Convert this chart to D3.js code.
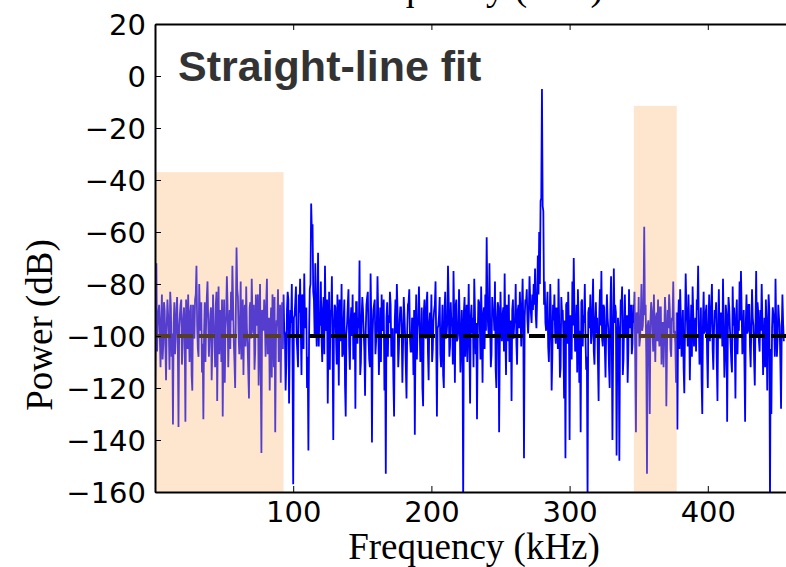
<!DOCTYPE html>
<html>
<head>
<meta charset="utf-8">
<script src="https://cdn.jsdelivr.net/npm/d3@7"></script>
<style>
  html, body { margin: 0; padding: 0; background: #fff; }
  svg { display: block; }
</style>
</head>
<body>
<svg class="svg" width="786" height="567"></svg>
<script>
// spectrum, in dB: one value at each whole kHz...
const powerDb = [
  -127, -72, -95, -88, -112, -84, -103, -90, -117, -86, -98, -83, -108, -134, -87, -101, -85, -135, -92, -86,
  -104, -89, -133, -96, -84, -110, -88, -121, -93, -86, -73, -105, -80, -98, -114, -132, -87, -95, -79, -108,
  -92, -117, -84, -99, -88, -125, -81, -94, -110, -131, -86, -97, -77, -112, -90, -83, -73, -102, -120, -66,
  -85, -107, -79, -96, -115, -88, -81, -103, -124, -87, -78, -99, -113, -84, -92, -119, -80, -145, -91, -86,
  -108, -78, -97, -121, -89, -84, -112, -137, -94, -82, -105, -118, -87, -84, -99, -111, -83, -126, -90, -80,
  -157, -92, -81, -106, -84, -78, -115, -88, -76, -97, -120, -144, -82, -49, -57, -86, -72, -104, -68, -91,
  -79, -110, -85, -73, -98, -126, -83, -90, -77, -140, -88, -101, -84, -119, -92, -80, -107, -86, -131, -95,
  -82, -113, -89, -84, -104, -128, -87, -93, -71, -110, -85, -98, -123, -88, -83, -109, -76, -141, -90, -86,
  -102, -77, -115, -89, -84, -96, -121, -153, -87, -92, -83, -108, -97, -131, -86, -80, -112, -94, -89, -118,
  -85, -100, -124, -88, -82, -106, -93, -115, -138, -84, -97, -81, -110, -89, -127, -86, -101, -83, -117, -91,
  -84, -105, -90, -79, -131, -96, -85, -112, -88, -120, -83, -99, -73, -108, -87, -93, -75, -118, -86, -101,
  -82, -114, -90, -164, -85, -97, -110, -80, -126, -88, -93, -78, -107, -132, -86, -95, -81, -118, -89, -84,
  -62, -96, -72, -112, -85, -90, -79, -120, -87, -137, -83, -102, -89, -76, -115, -92, -84, -108, -125, -86,
  -94, -80, -111, -88, -83, -104, -78, -147, -86, -82, -99, -77, -91, -84, -80, -74, -97, -69, -60, -48,
  -5, -52, -79, -98, -83, -110, -80, -121, -88, -84, -103, -92, -78, -116, -85, -90, -124, -147, -87, -83,
  -140, -95, -79, -70, -106, -88, -82, -118, -137, -86, -92, -80, -113, -162, -89, -84, -100, -78, -111, -87,
  -93, -125, -82, -75, -104, -89, -116, -84, -97, -120, -77, -140, -74, -88, -146, -93, -148, -86, -81, -109,
  -84, -97, -118, -82, -90, -107, -88, -83, -137, -92, -85, -101, -80, -96, -58, -88, -153, -94, -130, -87,
  -99, -84, -110, -91, -86, -104, -89, -95, -112, -85, -127, -90, -84, -105, -93, -79, -98, -118, -136, -86,
  -82, -108, -90, -122, -76, -95, -84, -117, -88, -81, -104, -93, -86, -73, -111, -89, -130, -83, -98, -88,
  -120, -84, -95, -80, -113, -90, -87, -125, -82, -101, -92, -78, -116, -88, -133, -85, -97, -110, -81, -89,
  -124, -86, -94, -79, -75, -107, -90, -133, -84, -98, -88, -112, -82, -96, -119, -75, -87, -102, -90, -80,
  -115, -93, -86, -121, -84, -165, -130, -89, -95, -78, -108, -88, -96, -128, -84, -102
];

// ...and one at each half kHz in between
const powerDbHalf = [
  -98, -106, -91, -100, -94, -109, -87, -104, -96, -92, -113, -89, -99, -95, -107, -90, -102, -97, -88, -111,
  -93, -100, -86, -105, -97, -91, -115, -88, -101, -84, -96, -108, -92, -87, -103, -99, -110, -85, -94, -100,
  -89, -104, -96, -112, -83, -98, -107, -90, -86, -101, -118, -92, -88, -99, -105, -94, -87, -110, -91, -82,
  -100, -95, -109, -86, -93, -104, -97, -114, -89, -101, -92, -88, -106, -96, -84, -103, -111, -90, -98, -94,
  -87, -107, -93, -99, -116, -91, -85, -102, -96, -110, -88, -94, -105, -98, -121, -90, -86, -103, -95, -108,
  -93, -87, -101, -112, -91, -97, -84, -105, -95, -89, -108, -99, -80, -60, -83, -100, -92, -88, -104, -96,
  -101, -90, -107, -95, -86, -99, -113, -92, -104, -96, -89, -111, -97, -86, -102, -108, -94, -119, -99, -88,
  -104, -95, -100, -109, -91, -87, -103, -97, -115, -93, -90, -106, -98, -85, -101, -112, -94, -99, -88, -107,
  -96, -91, -104, -110, -98, -86, -100, -93, -108, -95, -88, -102, -117, -94, -99, -90, -105, -89, -97, -103,
  -92, -112, -98, -87, -101, -106, -94, -90, -100, -109, -93, -96, -104, -120, -91, -98, -87, -106, -95, -100,
  -110, -94, -88, -103, -97, -92, -107, -99, -115, -90, -101, -95, -86, -104, -96, -111, -93, -89, -102, -98,
  -94, -106, -100, -91, -108, -88, -97, -103, -93, -99, -112, -90, -95, -101, -87, -109, -96, -92, -105, -98,
  -88, -100, -95, -107, -91, -98, -113, -93, -89, -104, -97, -92, -106, -99, -88, -102, -110, -94, -90, -101,
  -95, -103, -90, -97, -92, -89, -96, -93, -87, -94, -91, -86, -95, -90, -88, -92, -86, -84, -80, -47,
  -50, -88, -95, -90, -104, -97, -92, -108, -94, -99, -89, -105, -96, -112, -91, -100, -94, -88, -103, -97,
  -92, -109, -96, -90, -101, -114, -93, -98, -87, -104, -95, -100, -108, -91, -97, -103, -89, -106, -94, -99,
  -110, -92, -96, -101, -88, -105, -97, -93, -112, -90, -99, -104, -95, -91, -107, -98, -102, -89, -115, -94,
  -100, -92, -106, -97, -88, -103, -95, -110, -91, -99, -104, -93, -98, -88, -92, -108, -96, -101, -94, -90,
  -106, -97, -93, -102, -99, -89, -111, -95, -100, -92, -104, -97, -90, -108, -94, -99, -103, -91, -96, -105,
  -93, -100, -112, -97, -89, -104, -95, -101, -108, -92, -98, -106, -90, -96, -103, -117, -94, -99, -91, -107,
  -96, -102, -88, -105, -98, -93, -110, -95, -100, -91, -104, -97, -108, -92, -99, -89, -103, -114, -96, -101,
  -92, -107, -98, -94, -90, -102, -110, -95, -99, -88, -104, -97, -93, -109, -96, -100, -91, -106, -98, -94,
  -103, -112, -95, -99, -90, -105, -97, -92, -108, -96, -101, -93, -110, -98, -95
];

const fitLevel = -100;

// shaded bands [start kHz, end kHz, top dB]
const bands = [
  [0, 93, -37],
  [346.5, 377.5, -11.5]
];

const xTicks = [100, 200, 300, 400];
const yTicks = [20, 0, -20, -40, -60, -80, -100, -120, -140, -160];

const samples = powerDb.flatMap((v, i) =>
  i < powerDbHalf.length ? [[i, v], [i + 0.5, powerDbHalf[i]]] : [[i, v]]
);

const svg = d3.select('.svg');

const plotLeft = 155, plotTop = 24, plotBottom = 492;

const x = d3.scaleLinear().domain([0, 460]).range([plotLeft, plotLeft + 460 * 1.382]);
const y = d3.scaleLinear().domain([-160, 20]).range([plotBottom, plotTop]);

svg.append('defs')
  .append('clipPath')
  .attr('id', 'plot-clip')
  .append('rect')
  .attr('x', x(0))
  .attr('y', y(20))
  .attr('width', x(460) - x(0))
  .attr('height', y(-160) - y(20));

const plot = svg.append('g').attr('clip-path', 'url(#plot-clip)');

const line = d3.line()
  .x(d => x(d[0]))
  .y(d => y(d[1]));

plot.append('path')
  .datum(samples)
  .attr('d', line)
  .attr('fill', 'none')
  .attr('stroke', '#0000ff')
  .attr('stroke-width', 1.8)
  .attr('stroke-linejoin', 'miter');

plot.append('line')
  .attr('x1', x(0))
  .attr('x2', x(460))
  .attr('y1', y(fitLevel))
  .attr('y2', y(fitLevel))
  .attr('stroke', '#000')
  .attr('stroke-width', 4)
  .attr('stroke-dasharray', '16,6');

plot.selectAll('rect.band')
  .data(bands)
  .join('rect')
  .attr('class', 'band')
  .attr('x', d => x(d[0]))
  .attr('width', d => x(d[1]) - x(d[0]))
  .attr('y', d => y(d[2]))
  .attr('height', d => y(-160) - y(d[2]))
  .attr('fill', 'rgb(250,182,109)')
  .attr('fill-opacity', 0.34);

// axes, matplotlib classic look: inward ticks on all sides
const xAxisBottom = d3.axisBottom(x).tickValues(xTicks).tickSize(-6).tickPadding(9).tickSizeOuter(0);
const xAxisTop = d3.axisTop(x).tickValues(xTicks).tickSize(-6).tickFormat('').tickSizeOuter(0);
const yAxis = d3.axisLeft(y).tickValues(yTicks).tickSize(-6).tickPadding(9)
  .tickFormat(d => d < 0 ? '\u2212' + Math.abs(d) : d).tickSizeOuter(0);

const gx = svg.append('g').attr('transform', `translate(0,${plotBottom})`).call(xAxisBottom);
const gt = svg.append('g').attr('transform', `translate(0,${plotTop})`).call(xAxisTop);
const gy = svg.append('g').attr('transform', `translate(${plotLeft},0)`).call(yAxis);

[gx, gt, gy].forEach(g => {
  g.select('.domain').attr('stroke', '#000').attr('stroke-width', 2);
  g.selectAll('.tick line').attr('stroke', '#000').attr('stroke-width', 1);
  g.selectAll('.tick text')
    .attr('fill', '#000')
    .style('font-family', '"DejaVu Sans", sans-serif')
    .style('font-size', '29px');
});
gx.selectAll('.tick text').attr('dy', '0.71em');
gy.selectAll('.tick text').attr('dy', '0.36em');

// x label of the panel above, cut off at the top edge as in the original
svg.append('text')
  .attr('x', 474)
  .attr('y', 0)
  .attr('text-anchor', 'middle')
  .style('font-family', '"Liberation Serif", "Times New Roman", serif')
  .style('font-size', '38px')
  .text('Frequency (kHz)');

svg.append('text')
  .attr('x', 474)
  .attr('y', 559)
  .attr('text-anchor', 'middle')
  .style('font-family', '"Liberation Serif", "Times New Roman", serif')
  .style('font-size', '37px')
  .text('Frequency (kHz)');

svg.append('text')
  .attr('transform', 'translate(52,325) rotate(-90)')
  .attr('text-anchor', 'middle')
  .style('font-family', '"Liberation Serif", "Times New Roman", serif')
  .style('font-size', '37px')
  .text('Power (dB)');

svg.append('text')
  .attr('x', 178)
  .attr('y', 81)
  .attr('fill', '#333')
  .style('font-family', '"Liberation Sans", Arial, sans-serif')
  .style('font-weight', 'bold')
  .style('font-size', '43px')
  .text('Straight-line fit');
</script>
</body>
</html>
